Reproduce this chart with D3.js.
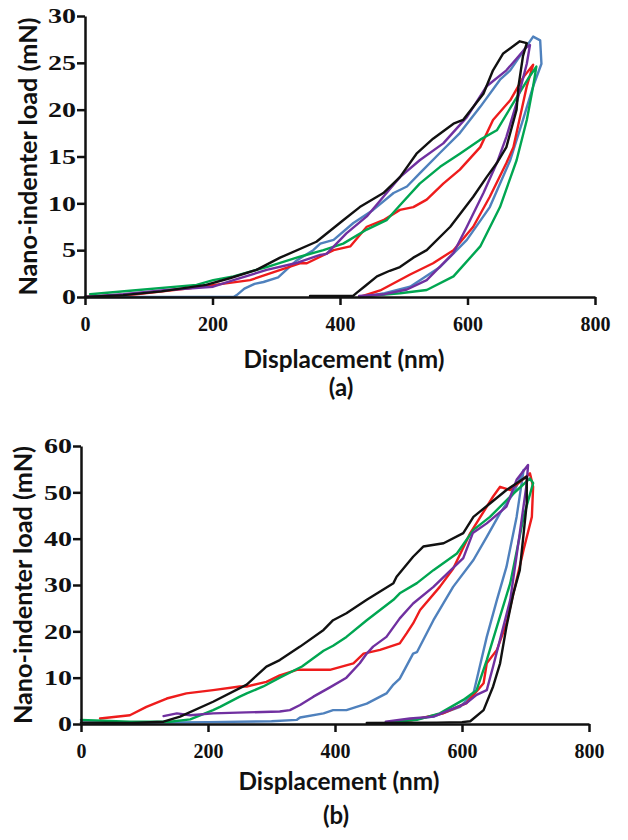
<!DOCTYPE html>
<html>
<head>
  <meta charset="utf-8">
  <script src="https://d3js.org/d3.v7.min.js"></script>
  <style>
    body { margin: 0; background: white; }
    .tick text { font-family: 'Liberation Serif', serif; font-weight: bold; font-size: 20px; fill: #111; }
    .axis path, .axis line { stroke: #111; stroke-width: 2.5; }
    .label { font-family: Lato, 'Open Sans', sans-serif; font-weight: bold; font-size: 24px; fill: #111; }
    .curve { fill: none; stroke-width: 2.4; stroke-linejoin: round; stroke-linecap: round; }
  </style>
</head>
<body>
<svg id="chart" width="628" height="840"></svg>
<script>
// tick values
const xTicks = [0, 200, 400, 600, 800];
const yTicksA = [0, 5, 10, 15, 20, 25, 30];
const yTicksB = [0, 10, 20, 30, 40, 50, 60];

// colours of the five indents
const colors = { black: "#111111", blue: "#4f81bd", purple: "#7030a0", red: "#ee1c1c", green: "#00a651" };

// panel (a): [displacement nm, load mN], loading then unloading
const aBlue = [[0,0],[100,0],[200,0],[233,0],[238,0.2],[250,0.9],[266,1.4],[280,1.6],[303,2.1],[332,3.9],[358,5.0],[369,5.7],[390,6.1],[421,7.9],[452,9.3],[484,11.1],[505,11.8],[525,13.2],[557,15.4],[588,17.5],[620,20.3],[651,23.2],[667,24.2],[690,26.5],[703,27.8],[714,27.4],
  [716,24.9],[703,22.5],[687,18.9],[667,14.6],[635,9.6],[599,6.1],[557,3.2],[510,1.1],[470,0.4],[442,0.1]];
const aRed = [[0,0],[80,0.3],[160,0.9],[259,1.8],[337,3.6],[348,3.6],[390,5.0],[416,5.4],[442,7.5],[468,8.2],[494,9.3],[515,9.6],[536,10.4],[562,12.1],[588,13.6],[620,16.0],[640,18.9],[667,21.0],[688,23.5],[703,24.8],
  [693,22.5],[672,16.0],[661,14.3],[635,10.7],[609,7.5],[578,5.0],[546,3.6],[510,2.4],[463,0.7],[431,0]];
const aGreen = [[8,0.3],[75,0.7],[175,1.3],[201,1.8],[233,2.2],[285,3.2],[337,4.3],[374,5.0],[405,5.7],[442,7.2],[473,8.2],[494,9.8],[525,12.1],[557,13.9],[588,15.3],[620,16.8],[646,17.8],[670,20.5],[695,23.3],[708,24.6],
  [703,22.5],[693,18.9],[677,14.6],[651,9.6],[620,5.4],[578,2.2],[536,0.75],[494,0.4],[442,0.1]];
const aPurple = [[0,0],[60,0.3],[128,0.75],[201,1.1],[233,1.8],[285,2.9],[330,3.6],[369,4.5],[379,4.6],[410,6.8],[442,8.6],[473,11.1],[494,12.8],[525,14.6],[562,16.4],[599,19.2],[630,22.5],[661,24.2],[693,26.7],[698,26.9],
  [693,24.9],[677,20.7],[661,17.1],[646,14.3],[625,11.1],[599,7.5],[578,4.7],[536,1.8],[505,0.8],[470,0.3],[430,0.1]];
const aBlack = [[0,0],[60,0.2],[120,0.6],[190,1.3],[227,2.0],[269,2.9],[306,4.2],[363,5.9],[405,8.2],[431,9.6],[468,11.1],[494,12.8],[520,15.3],[546,16.9],[578,18.5],[593,18.9],[625,21.7],[640,24.2],[656,26.0],[682,27.3],[693,27.1],
  [687,25.7],[680,22.5],[677,20.0],[661,16.0],[646,14.3],[630,12.8],[609,10.7],[573,7.5],[536,5.0],[515,4.2],[494,3.2],[478,2.8],[458,2.2],[440,1.2],[427,0.5],[420,0.1],[390,0.1],[353,0.1]];

// panel (b)
const bBlue = [[0,0.3],[100,0.3],[200,0.4],[300,0.6],[340,0.9],[345,1.4],[382,2.3],[397,3.0],[418,3.0],[450,4.4],[481,6.6],[492,8.5],[502,9.8],[523,15.2],[529,15.5],[555,22.4],[586,29.6],[618,35.4],[639,40.4],[660,45.5],[681,49.8],[697,54.8],
  [686,44.7],[670,33.9],[655,26.8],[639,18.8],[628,12.4],[618,6.6],[597,3.7],[555,1.6],[500,0.6]];
const bRed = [[30,1.2],[77,1.9],[103,3.7],[135,5.5],[166,6.6],[208,7.3],[250,8.1],[261,8.1],[292,9.1],[313,10.5],[340,11.7],[392,11.7],[429,13.1],[445,15.2],[471,16.0],[502,17.4],[513,19.6],[523,21.7],[534,24.6],[565,29.6],[586,33.5],[613,41.2],[649,49.1],[660,51.2],[676,50.5],[707,54.1],
  [712,51.2],[710,44.7],[697,37.6],[681,28.2],[670,21.7],[655,16.0],[639,13.1],[634,8.8],[607,4.5],[570,2.3],[520,0.8],[487,0.5]];
const bGreen = [[0,0.9],[77,0.5],[140,0.5],[172,1.0],[208,3.0],[219,3.7],[250,5.9],[261,6.6],[287,8.1],[313,10.0],[348,12.4],[382,15.8],[397,16.9],[418,18.8],[450,22.4],[492,26.8],[502,28.2],[529,30.4],[555,33.2],[592,36.8],[618,41.9],[644,44.7],[676,49.1],[707,53.0],
  [712,52.0],[697,44.7],[676,30.4],[655,21.0],[639,13.8],[623,7.3],[602,5.2],[565,2.3],[529,0.9],[480,0.3]];
const bPurple = [[130,1.7],[151,2.3],[172,1.9],[208,2.3],[260,2.5],[313,2.7],[329,3.0],[345,4.1],[366,5.9],[392,7.9],[418,10.0],[439,13.1],[450,15.2],[460,16.7],[481,18.8],[502,22.8],[523,26.0],[555,29.6],[602,35.8],[617,41.2],[639,43.3],[670,46.9],[686,52.7],[704,55.9],
  [702,52.0],[691,41.2],[676,26.8],[649,12.4],[639,7.3],[623,6.3],[607,4.5],[555,1.6],[518,1.2],[480,0.5]];
const bBlack = [[0,0.3],[80,0.2],[130,0.5],[156,1.6],[208,4.8],[261,8.5],[292,12.4],[313,13.8],[345,16.7],[382,20.3],[397,22.4],[418,23.9],[450,26.8],[492,30.4],[497,31.8],[523,36.1],[539,38.3],[571,39.0],[602,41.2],[618,44.7],[644,47.6],[670,50.5],[702,53.4],
  [702,47.6],[691,33.2],[681,28.2],[670,21.0],[660,13.1],[649,8.1],[634,3.0],[613,0.6],[600,0.4],[560,0.3],[450,0.2]];

const svg = d3.select("#chart");

function drawPanel(p) {
  const x = d3.scaleLinear().domain([0, 800]).range([p.x0, p.x1]);
  const y = d3.scaleLinear().domain([0, p.yMax]).range([p.y0, p.y1]);
  const g = svg.append("g");

  const line = d3.line().x(d => x(d[0])).y(d => y(d[1]));
  p.series.forEach(s => {
    g.append("path").attr("class", "curve")
      .attr("stroke", colors[s.color])
      .attr("d", line(s.data));
  });

  g.append("g").attr("class", "axis")
    .attr("transform", `translate(0,${p.y0})`)
    .call(d3.axisBottom(x).tickValues(xTicks).tickSize(8).tickSizeOuter(0).tickPadding(13))
    .call(a => a.selectAll(".tick text").attr("dy", "0.65em"));

  g.append("g").attr("class", "axis")
    .attr("transform", `translate(${p.x0},0)`)
    .call(d3.axisLeft(y).tickValues(p.yTicks).tickSize(8).tickSizeOuter(0))
    .call(a => a.selectAll(".tick text")
      .attr("x", -9 / 1.4).attr("dy", "0.34em")
      .attr("transform", "scale(1.4,1)"));

  const cx = (p.x0 + p.x1) / 2;
  g.append("text").attr("class", "label")
    .attr("x", cx + 4).attr("y", p.xLabelY)
    .attr("text-anchor", "middle")
    .attr("textLength", 201).attr("lengthAdjust", "spacingAndGlyphs")
    .text("Displacement (nm)");

  g.append("text").attr("class", "label")
    .attr("x", cx + 1).attr("y", p.tagY)
    .attr("text-anchor", "middle")
    .attr("font-size", 23)
    .text(p.tag);

  g.append("text").attr("class", "label")
    .attr("transform", `translate(${p.yLabelX},${(p.y0 + p.y1) / 2}) rotate(-90)`)
    .attr("text-anchor", "middle")
    .attr("textLength", 278).attr("lengthAdjust", "spacingAndGlyphs")
    .text("Nano-indenter load (mN)");
}

drawPanel({
  x0: 85, x1: 595, y0: 297, y1: 16, yMax: 30, yTicks: yTicksA,
  xLabelY: 368, tagY: 396, tag: "(a)", yLabelX: 37,
  series: [
    { color: "blue", data: aBlue }, { color: "red", data: aRed }, { color: "green", data: aGreen },
    { color: "purple", data: aPurple }, { color: "black", data: aBlack }
  ]
});

drawPanel({
  x0: 81, x1: 589, y0: 724, y1: 446, yMax: 60, yTicks: yTicksB,
  xLabelY: 790, tagY: 824, tag: "(b)", yLabelX: 32,
  series: [
    { color: "blue", data: bBlue }, { color: "red", data: bRed }, { color: "green", data: bGreen },
    { color: "purple", data: bPurple }, { color: "black", data: bBlack }
  ]
});
</script>
</body>
</html>
